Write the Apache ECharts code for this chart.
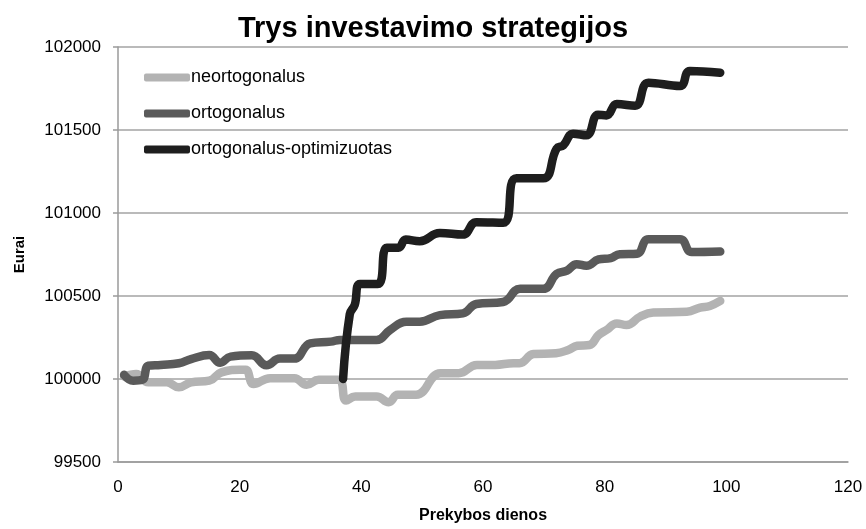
<!DOCTYPE html>
<html>
<head>
<meta charset="utf-8">
<script src="https://cdn.jsdelivr.net/npm/echarts@6/dist/echarts.min.js"></script>
<style>
html,body{margin:0;padding:0;background:#fff;}
#chart{width:866px;height:529px;}
</style>
</head>
<body>
<div id="chart"></div>
<script>
// Series names
var seriesNames = ['neortogonalus', 'ortogonalus', 'ortogonalus-optimizuotas'];

// neortogonalus (trading day, euros)
var neoDays = [1, 3, 5, 8, 10, 12, 15, 17, 20, 21, 22.3, 25, 29, 31, 33, 36.3, 37.5, 39, 42.5, 44.5, 46, 49, 53, 56, 59, 62, 65, 66, 68.3, 72, 74, 75.5, 77.5, 79, 80.3, 82, 83.6, 85.8, 88, 93.5, 95.7, 97.3, 99];
var neoVals = [100015, 100030, 99980, 99980, 99950, 99980, 99990, 100040, 100055, 100055, 99970, 100005, 100005, 99965, 99995, 99995, 99870, 99895, 99895, 99860, 99905, 99905, 100035, 100035, 100085, 100085, 100095, 100095, 100150, 100155, 100175, 100200, 100205, 100265, 100295, 100335, 100325, 100375, 100400, 100405, 100430, 100440, 100470];

// ortogonalus
var ortDays = [1, 2.5, 4, 5, 7, 10, 12, 15, 16.8, 18.5, 22, 24.4, 26.6, 29, 31.6, 35, 36.5, 42.5, 44.7, 47.4, 49.6, 52.9, 56.7, 58.9, 63.3, 66.1, 69.9, 72.1, 73.8, 75.4, 77, 79, 81, 82.5, 85.3, 87.2, 92.4, 94.3, 99];
var ortVals = [100025, 99990, 99995, 100080, 100085, 100095, 100120, 100145, 100098, 100135, 100143, 100083, 100123, 100123, 100215, 100225, 100235, 100235, 100295, 100345, 100345, 100385, 100395, 100452, 100464, 100543, 100543, 100633, 100653, 100692, 100682, 100720, 100728, 100752, 100755, 100842, 100842, 100765, 100768];

// ortogonalus-optimizuotas
var optDays = [37, 38.1, 38.9, 39.8, 42.7, 44.2, 46.1, 47.3, 49.6, 52.9, 56.7, 58.9, 63.3, 65.5, 69.9, 72.1, 73.2, 74.8, 77, 78.9, 80.3, 82, 85, 87.2, 92.4, 94, 99];
var optVals = [100000, 100390, 100445, 100572, 100572, 100791, 100791, 100840, 100830, 100880, 100870, 100945, 100941, 101209, 101209, 101388, 101408, 101478, 101468, 101592, 101588, 101656, 101646, 101785, 101765, 101855, 101845];

var seriesColors = ['#b3b3b3', '#5a5a5a', '#1e1e1e'];

function pairs(xs, ys) {
  return xs.map(function (x, i) { return [x, ys[i]]; });
}

var FONT = 'Liberation Sans';
var chart = echarts.init(document.getElementById('chart'), null, {renderer: 'canvas'});

function lineSeries(name, data, color) {
  return {
    name: name,
    type: 'line',
    data: data,
    smooth: 0.45,
    showSymbol: false,
    symbol: 'none',
    color: color,
    lineStyle: {width: 8.5, color: color, cap: 'round', join: 'round'},
    emphasis: {disabled: true},
    animation: false
  };
}

chart.setOption({
  backgroundColor: '#ffffff',
  animation: false,
  title: {
    text: 'Trys investavimo strategijos',
    left: 'center',
    top: 9,
    textStyle: {fontFamily: FONT, fontSize: 29, fontWeight: 'bold', color: '#000'}
  },
  legend: {
    orient: 'vertical',
    left: 139,
    top: 63,
    itemWidth: 46,
    itemHeight: 8,
    itemGap: 17,
    icon: 'roundRect',
    data: seriesNames,
    textStyle: {fontFamily: FONT, fontSize: 18, lineHeight: 19, color: '#000', padding: [0, 0, 0, -4]}
  },
  grid: {left: 118, right: 18, top: 47, bottom: 62, containLabel: false},
  xAxis: {
    type: 'value',
    min: 0,
    max: 120,
    interval: 20,
    name: 'Prekybos dienos',
    nameLocation: 'middle',
    nameGap: 46,
    nameTextStyle: {fontFamily: FONT, fontSize: 16, fontWeight: 'bold', color: '#000'},
    axisLine: {show: true, lineStyle: {color: '#9a9a9a', width: 1.5}},
    axisTick: {show: false},
    splitLine: {show: false},
    axisLabel: {fontFamily: FONT, fontSize: 17, color: '#000', margin: 17}
  },
  yAxis: {
    type: 'value',
    min: 99500,
    max: 102000,
    interval: 500,
    name: 'Eurai',
    nameLocation: 'middle',
    nameGap: 91,
    nameRotate: 90,
    nameTextStyle: {fontFamily: FONT, fontSize: 15, fontWeight: 'bold', color: '#000'},
    axisLine: {show: true, lineStyle: {color: '#9a9a9a', width: 1.5}},
    axisTick: {show: true, inside: false, length: 5, lineStyle: {color: '#9a9a9a', width: 1.5}},
    splitLine: {show: true, lineStyle: {color: '#a3a3a3', width: 1.5}},
    axisLabel: {fontFamily: FONT, fontSize: 17, color: '#000', margin: 17, formatter: function (v) { return String(v); }}
  },
  series: [
    lineSeries(seriesNames[0], pairs(neoDays, neoVals), seriesColors[0]),
    lineSeries(seriesNames[1], pairs(ortDays, ortVals), seriesColors[1]),
    lineSeries(seriesNames[2], pairs(optDays, optVals), seriesColors[2])
  ]
});
</script>
</body>
</html>
